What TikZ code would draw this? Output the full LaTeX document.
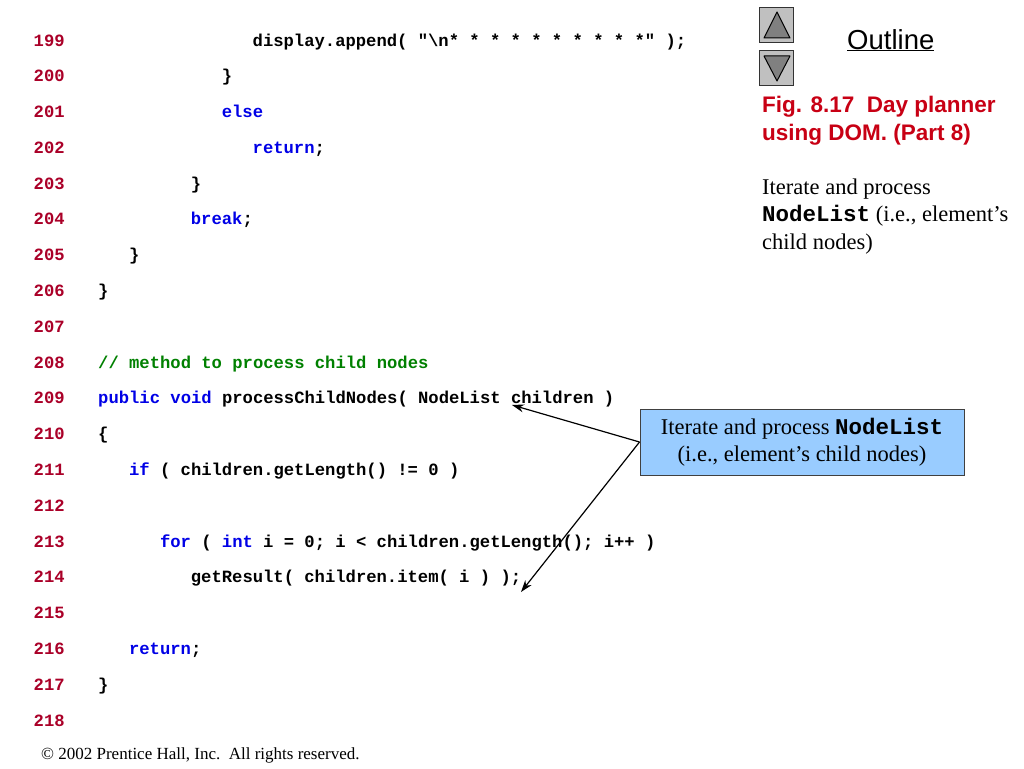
\documentclass[tikz,border=0pt]{standalone}
\usepackage{fontspec}
\setmainfont{Liberation Serif}
\setsansfont{Liberation Sans}
\setmonofont{Liberation Mono}
\usepackage{xcolor}
\usetikzlibrary{calc, positioning, arrows.meta}

\definecolor{lnred}{RGB}{170,0,40}
\definecolor{kwblue}{RGB}{0,0,230}
\definecolor{cmgreen}{RGB}{0,128,0}
\definecolor{figred}{RGB}{200,0,20}
\definecolor{boxblue}{RGB}{153,204,255}
\definecolor{btngray}{RGB}{192,192,192}
\definecolor{trigray}{RGB}{128,128,128}

\newcommand{\kw}[1]{\textcolor{kwblue}{#1}}
\newcommand{\codeline}[3]{\node[code] (c#1) at ([xshift={64.5pt+#2*10.3pt}]l#1.base west) {#3};}

\begin{document}
\begin{tikzpicture}[x=1pt, y=-1pt,
	lnum/.style={anchor=base west, inner sep=0pt, text=lnred, font=\ttfamily\bfseries\fontsize{17.2}{20}\selectfont},
	code/.style={anchor=base west, inner sep=0pt, font=\ttfamily\bfseries\fontsize{17.2}{20}\selectfont},
	side/.style={anchor=base west, inner sep=0pt, font=\rmfamily\fontsize{22.5}{27}\selectfont},
	figtitle/.style={anchor=base west, inner sep=0pt, text=figred, font=\sffamily\bfseries\fontsize{22.5}{28}\selectfont},
	btn/.style={fill=btngray, draw=black!80, line width=1pt},
	tri/.style={fill=trigray, draw=black, line width=1pt, line join=round},
	pointer/.style={-{Stealth[length=12pt, width=8pt]}, line width=1.2pt}]
	
	\useasboundingbox (0,0) rectangle (1024,768);
	
	%line numbers
	\foreach \i in {199,...,218}
		\node[lnum] (l\i) at (33.5, {46+(\i-199)*35.79}) {\i};
	
	%code
	\codeline{199}{15}{display.append( "\textbackslash n* * * * * * * * * *" );}
	\codeline{200}{12}{\}}
	\codeline{201}{12}{\kw{else}}
	\codeline{202}{15}{\kw{return};}
	\codeline{203}{9}{\}}
	\codeline{204}{9}{\kw{break};}
	\codeline{205}{3}{\}}
	\codeline{206}{0}{\}}
	\codeline{208}{0}{\textcolor{cmgreen}{// method to process child nodes}}
	\codeline{209}{0}{\kw{public} \kw{void} processChildNodes( NodeList children )}
	\codeline{210}{0}{\{}
	\codeline{211}{3}{\kw{if} ( children.getLength() != 0 )}
	\codeline{213}{6}{\kw{for} ( \kw{int} i = 0; i < children.getLength(); i++ )}
	\codeline{214}{9}{getResult( children.item( i ) );}
	\codeline{216}{3}{\kw{return};}
	\codeline{217}{0}{\}}
	
	%navigation buttons
	\draw[btn] (759,8) rectangle (793,43);
	\draw[tri] (777,12) -- (790,38) -- (764,38) -- cycle;
	\draw[btn] (759,51) rectangle (793,85);
	\draw[tri] (764,56) -- (790,56) -- (777,81) -- cycle;
	
	\node[anchor=base west, inner sep=0pt, font=\sffamily\fontsize{27.5}{32}\selectfont] (outline) at (847,49) {\underline{Outline}};
	
	%caption
	\node[figtitle] (fig1) at (762,112) {Fig. 8.17\ \ Day planner};
	\node[figtitle] (fig2) at ([yshift=-28pt]fig1.base west) {using DOM. (Part 8)};
	
	\node[side] (side1) at (762,194) {Iterate and process};
	\node[side] (side2) at ([yshift=-27.5pt]side1.base west) {\texttt{\textbf{NodeList}} (i.e., element’s};
	\node[side] (side3) at ([yshift=-27.5pt]side2.base west) {child nodes)};
	
	%callout
	\node[fill=boxblue, draw=black!75, line width=1pt, minimum width=324pt, minimum height=66pt, inner sep=0pt, align=center, font=\rmfamily\fontsize{22.5}{27}\selectfont] (note) at (802,442) {Iterate and process \texttt{\textbf{NodeList}}\\(i.e., element’s child nodes)};
	
	\coordinate (tipA) at (512,405);
	\coordinate (tipB) at (521,592);
	\draw[pointer] (note.west) -- (tipA);
	\draw[pointer] (note.west) -- (tipB);
	
	%footer
	\node[anchor=base west, inner sep=0pt, font=\rmfamily\fontsize{17}{20}\selectfont] (copy) at (41,759) {© 2002 Prentice Hall, Inc.\ \ All rights reserved.};
\end{tikzpicture}
\end{document}
